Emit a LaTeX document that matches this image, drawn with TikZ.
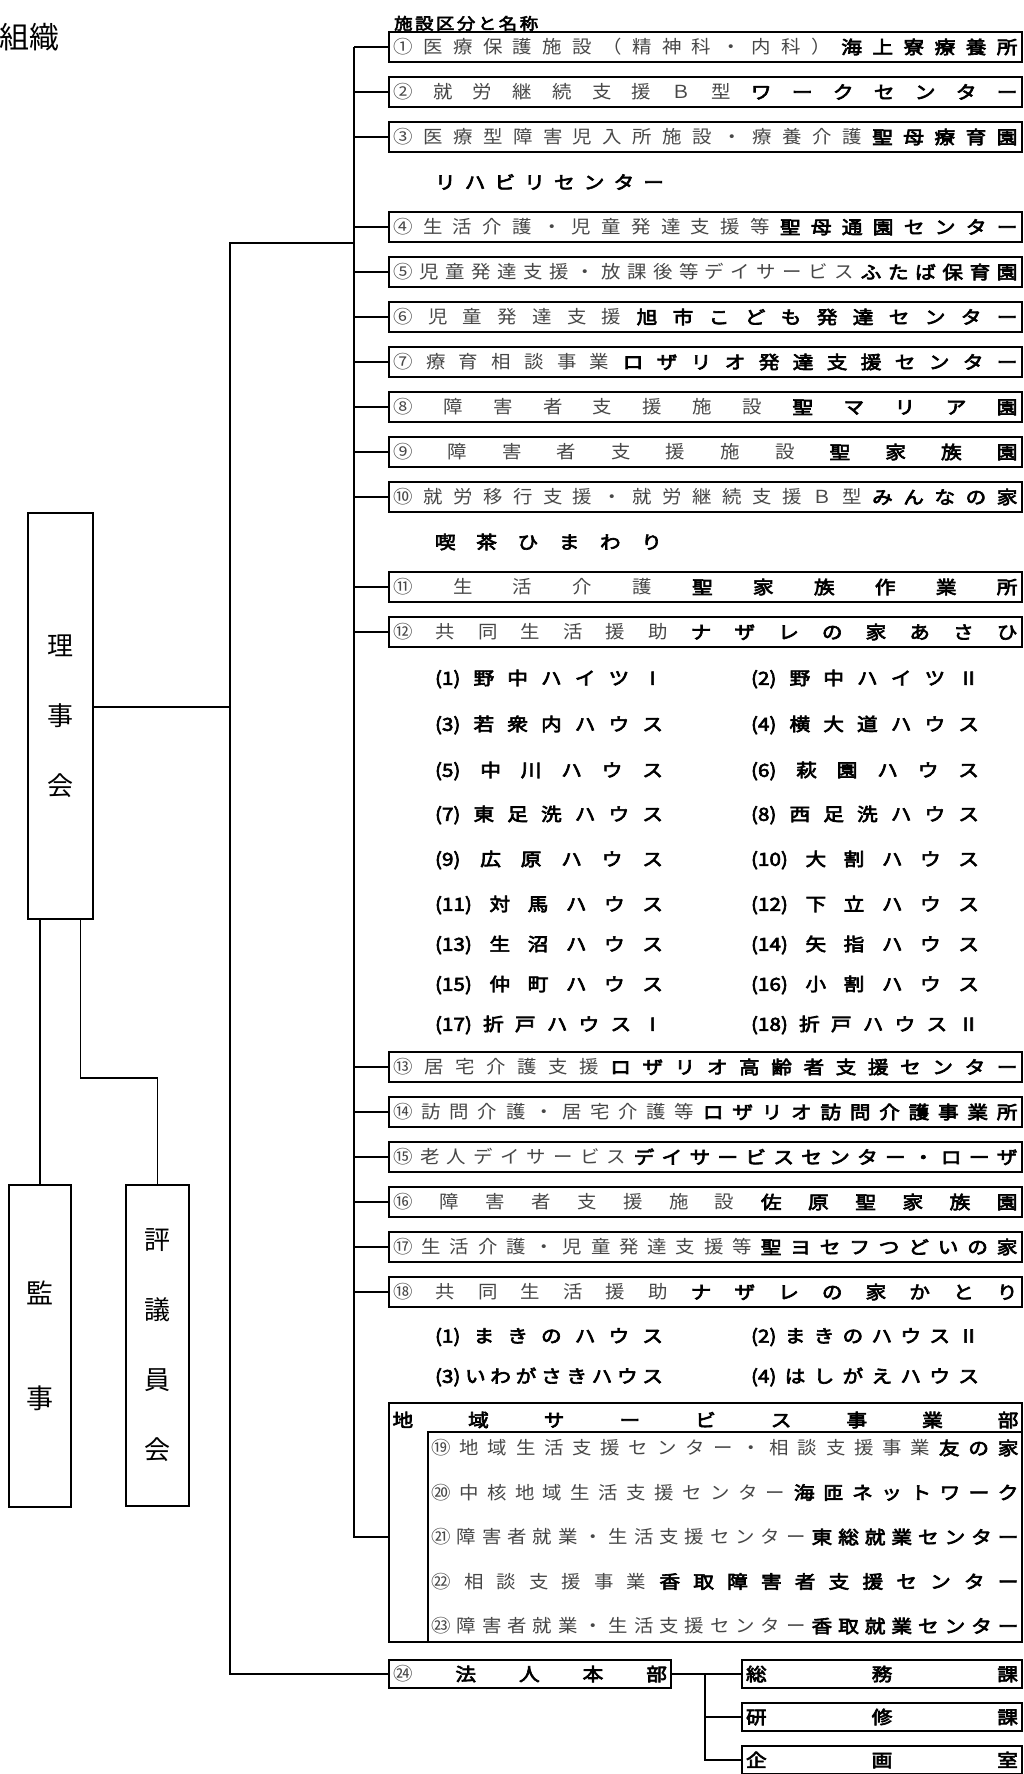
\documentclass[tikz,border=0pt]{standalone}
\usepackage{fontspec}
\usepackage{xcolor}
\usepackage{tikz}
\usetikzlibrary{positioning}

\newfontfamily\jpfont{Noto Sans CJK JP}
\newfontfamily\jplight[FakeStretch=1.08]{Noto Sans CJK JP}
\newfontfamily\jpheavy[FakeBold=3.6,FakeStretch=1.15]{Noto Sans CJK JP}

\makeatletter
\newcommand{\spreadtok}[1]{%
	\let\spr@gap\relax
	\@tfor\spr@tok:=#1\do{\spr@gap\spr@tok\let\spr@gap\hfill}}
\makeatother
\newcommand{\facrow}[3]{\makebox[#1][s]{{\color{black!72}\jplight\spreadtok{#2}}\hfill{\jpheavy\spreadtok{#3}}}}
\newcommand{\boldrow}[2]{\makebox[#1][s]{\jpheavy\spreadtok{#2}}}

\begin{document}
\begin{tikzpicture}[x=1pt, y=-1pt]
				% Styles
				\tikzstyle{facbox} = [draw, line width=1.6pt, rectangle, minimum width=633pt, minimum height=30pt, inner xsep=3pt, inner ysep=0pt, outer sep=0pt, font=\fontsize{18pt}{20pt}\selectfont]
				\tikzstyle{textrow} = [rectangle, minimum height=30pt, inner sep=0pt, outer sep=0pt, font=\fontsize{18pt}{20pt}\selectfont]
				\tikzstyle{sidebox} = [draw, line width=1.1pt, rectangle, align=center, inner sep=0pt, outer sep=0pt]
				\tikzstyle{conn} = [line width=1.1pt]

				\useasboundingbox (0,0) rectangle (1023,1774);

				% Nodes
				\node (title) at (29,37) {\jpfont\fontsize{30pt}{32pt}\selectfont 組織};
				\node (fac1) [facbox] at (705.5,47) {\facrow{624pt}{①医療保護施設（精神科・内科）}{海上寮療養所}};
				\node (listhead) [above=1pt of fac1.north west, anchor=south west, xshift=5pt, inner sep=0pt] {\jpheavy\fontsize{16pt}{18pt}\selectfont\makebox[144pt][s]{\spreadtok{施設区分と名称}}};
				\node (fac2) [facbox, below=15pt of fac1] {\facrow{624pt}{②就労継続支援Ｂ型}{ワークセンター}};
				\node (fac3) [facbox, below=15pt of fac2] {\facrow{624pt}{③医療型障害児入所施設・療養介護}{聖母療育園}};
				\node (rehab) [textrow, below=15pt of fac3.south west, anchor=north west, xshift=46pt] {\boldrow{229pt}{リハビリセンター}};
				\node (fac4) [facbox, below=60pt of fac3] {\facrow{624pt}{④生活介護・児童発達支援等}{聖母通園センター}};
				\node (fac5) [facbox, below=15pt of fac4] {\facrow{624pt}{⑤児童発達支援・放課後等デイサービス}{ふたば保育園}};
				\node (fac6) [facbox, below=15pt of fac5] {\facrow{624pt}{⑥児童発達支援}{旭市こども発達センター}};
				\node (fac7) [facbox, below=15pt of fac6] {\facrow{624pt}{⑦療育相談事業}{ロザリオ発達支援センター}};
				\node (fac8) [facbox, below=15pt of fac7] {\facrow{624pt}{⑧障害者支援施設}{聖マリア園}};
				\node (fac9) [facbox, below=15pt of fac8] {\facrow{624pt}{⑨障害者支援施設}{聖家族園}};
				\node (fac10) [facbox, below=15pt of fac9] {\facrow{624pt}{⑩就労移行支援・就労継続支援Ｂ型}{みんなの家}};
				\node (kissa) [textrow, below=15pt of fac10.south west, anchor=north west, xshift=46pt] {\boldrow{227pt}{喫茶ひまわり}};
				\node (fac11) [facbox, below=60pt of fac10] {\facrow{624pt}{⑪生活介護}{聖家族作業所}};
				\node (fac12) [facbox, below=15pt of fac11] {\facrow{624pt}{⑫共同生活援助}{ナザレの家あさひ}};

				% group homes of fac12
				\node (asahi1) [textrow, below=17pt of fac12.south west, anchor=north west, xshift=46pt] {\boldrow{228pt}{{(1)}野中ハイツⅠ}};
				\node (asahi2) [textrow, right=88pt of asahi1] {\boldrow{228pt}{{(2)}野中ハイツⅡ}};
				\node (asahi3) [textrow, below=16pt of asahi1] {\boldrow{228pt}{{(3)}若衆内ハウス}};
				\node (asahi4) [textrow, right=88pt of asahi3] {\boldrow{228pt}{{(4)}横大道ハウス}};
				\node (asahi5) [textrow, below=16pt of asahi3] {\boldrow{228pt}{{(5)}中川ハウス}};
				\node (asahi6) [textrow, right=88pt of asahi5] {\boldrow{228pt}{{(6)}萩園ハウス}};
				\node (asahi7) [textrow, below=14pt of asahi5] {\boldrow{228pt}{{(7)}東足洗ハウス}};
				\node (asahi8) [textrow, right=88pt of asahi7] {\boldrow{228pt}{{(8)}西足洗ハウス}};
				\node (asahi9) [textrow, below=15pt of asahi7] {\boldrow{228pt}{{(9)}広原ハウス}};
				\node (asahi10) [textrow, right=88pt of asahi9] {\boldrow{228pt}{{(10)}大割ハウス}};
				\node (asahi11) [textrow, below=15pt of asahi9] {\boldrow{228pt}{{(11)}対馬ハウス}};
				\node (asahi12) [textrow, right=88pt of asahi11] {\boldrow{228pt}{{(12)}下立ハウス}};
				\node (asahi13) [textrow, below=10pt of asahi11] {\boldrow{228pt}{{(13)}生沼ハウス}};
				\node (asahi14) [textrow, right=88pt of asahi13] {\boldrow{228pt}{{(14)}矢指ハウス}};
				\node (asahi15) [textrow, below=10pt of asahi13] {\boldrow{228pt}{{(15)}仲町ハウス}};
				\node (asahi16) [textrow, right=88pt of asahi15] {\boldrow{228pt}{{(16)}小割ハウス}};
				\node (asahi17) [textrow, below=10pt of asahi15] {\boldrow{228pt}{{(17)}折戸ハウスⅠ}};
				\node (asahi18) [textrow, right=88pt of asahi17] {\boldrow{228pt}{{(18)}折戸ハウスⅡ}};

				\node (fac13) [facbox, below=405pt of fac12] {\facrow{624pt}{⑬居宅介護支援}{ロザリオ高齢者支援センター}};
				\node (fac14) [facbox, below=15pt of fac13] {\facrow{624pt}{⑭訪問介護・居宅介護等}{ロザリオ訪問介護事業所}};
				\node (fac15) [facbox, below=15pt of fac14] {\facrow{624pt}{⑮老人デイサービス}{デイサービスセンター・ローザ}};
				\node (fac16) [facbox, below=15pt of fac15] {\facrow{624pt}{⑯障害者支援施設}{佐原聖家族園}};
				\node (fac17) [facbox, below=15pt of fac16] {\facrow{624pt}{⑰生活介護・児童発達支援等}{聖ヨセフつどいの家}};
				\node (fac18) [facbox, below=15pt of fac17] {\facrow{624pt}{⑱共同生活援助}{ナザレの家かとり}};

				% group homes of fac18
				\node (katori1) [textrow, below=15pt of fac18.south west, anchor=north west, xshift=46pt] {\boldrow{228pt}{{(1)}まきのハウス}};
				\node (katori2) [textrow, right=88pt of katori1] {\boldrow{228pt}{{(2)}まきのハウスⅡ}};
				\node (katori3) [textrow, below=10pt of katori1] {\boldrow{228pt}{{(3)}いわがさきハウス}};
				\node (katori4) [textrow, right=88pt of katori3] {\boldrow{228pt}{{(4)}はしがえハウス}};

				% regional services
				\node (region) [facbox, minimum height=239pt, below=96pt of fac18] {};
				\node (regionhead) [textrow, below=2pt of region.north] {\boldrow{626pt}{地域サービス事業部}};
				\node (regioninner) [draw, line width=1.6pt, minimum width=594pt, minimum height=210pt, outer sep=0pt, above left=0pt of region.south east] {};
				\node (r19) [textrow, below=1pt of regioninner.north] {\facrow{587pt}{⑲地域生活支援センター・相談支援事業}{友の家}};
				\node (r20) [textrow, below=14.5pt of r19] {\facrow{587pt}{⑳中核地域生活支援センター}{海匝ネットワーク}};
				\node (r21) [textrow, below=14.5pt of r20] {\facrow{587pt}{㉑障害者就業・生活支援センター}{東総就業センター}};
				\node (r22) [textrow, below=14.5pt of r21] {\facrow{587pt}{㉒相談支援事業}{香取障害者支援センター}};
				\node (r23) [textrow, below=14.5pt of r22] {\facrow{587pt}{㉓障害者就業・生活支援センター}{香取就業センター}};

				% head office
				\node (hq) [facbox, minimum width=282pt, minimum height=28pt, below=18pt of region.south west, anchor=north west] {\facrow{274pt}{㉔}{法人本部}};
				\node (soumu) [facbox, minimum width=280pt, minimum height=28pt, right=71pt of hq] {\boldrow{272pt}{総務課}};
				\node (kenshu) [facbox, minimum width=280pt, minimum height=28pt, below=15pt of soumu] {\boldrow{272pt}{研修課}};
				\node (kikaku) [facbox, minimum width=280pt, minimum height=28pt, below=15pt of kenshu] {\boldrow{272pt}{企画室}};

				% board
				\node (board) [sidebox, minimum width=65pt, minimum height=406pt, font=\jpfont\fontsize{26pt}{70pt}\selectfont] at (60.5,716) {理\\事\\会};
				\node (auditor) [sidebox, minimum width=62pt, minimum height=322pt, font=\jpfont\fontsize{27pt}{105pt}\selectfont, below=266pt of board.south west, anchor=north west, xshift=-19pt] {監\\事};
				\node (council) [sidebox, minimum width=63pt, minimum height=321pt, font=\jpfont\fontsize{26pt}{70pt}\selectfont, right=55pt of auditor.north east, anchor=north west] {評\\議\\員\\会};

				% Connections
				\coordinate (bus) at (354,0);
				\coordinate (trunk) at (230,243);
				\coordinate (subbus) at (705,0);
				\coordinate (boardout) at ([yshift=9pt]board.east);
				\draw [conn] (bus |- fac1) -- (bus |- r21) -- (r21 -| region.west);
				\draw [conn] (bus |- fac1) -- (fac1);
				\draw [conn] (bus |- fac2) -- (fac2);
				\draw [conn] (bus |- fac3) -- (fac3);
				\draw [conn] (bus |- fac4) -- (fac4);
				\draw [conn] (bus |- fac5) -- (fac5);
				\draw [conn] (bus |- fac6) -- (fac6);
				\draw [conn] (bus |- fac7) -- (fac7);
				\draw [conn] (bus |- fac8) -- (fac8);
				\draw [conn] (bus |- fac9) -- (fac9);
				\draw [conn] (bus |- fac10) -- (fac10);
				\draw [conn] (bus |- fac11) -- (fac11);
				\draw [conn] (bus |- fac12) -- (fac12);
				\draw [conn] (bus |- fac13) -- (fac13);
				\draw [conn] (bus |- fac14) -- (fac14);
				\draw [conn] (bus |- fac15) -- (fac15);
				\draw [conn] (bus |- fac16) -- (fac16);
				\draw [conn] (bus |- fac17) -- (fac17);
				\draw [conn] (bus |- fac18) -- (fac18);
				\draw [conn] (trunk -| bus) -- (trunk) |- (hq);
				\draw [conn] (boardout) -- (boardout -| trunk);
				\draw [conn] (board.south -| auditor.north) -- (auditor.north);
				\draw [conn] ([xshift=20pt]board.south) -- ++(0,159) -| (council.north);
				\draw [conn] (hq) -- (soumu);
				\draw [conn] (subbus |- hq) -- (subbus |- kikaku) -- (kikaku);
				\draw [conn] (subbus |- kenshu) -- (kenshu);

\end{tikzpicture}
\end{document}
